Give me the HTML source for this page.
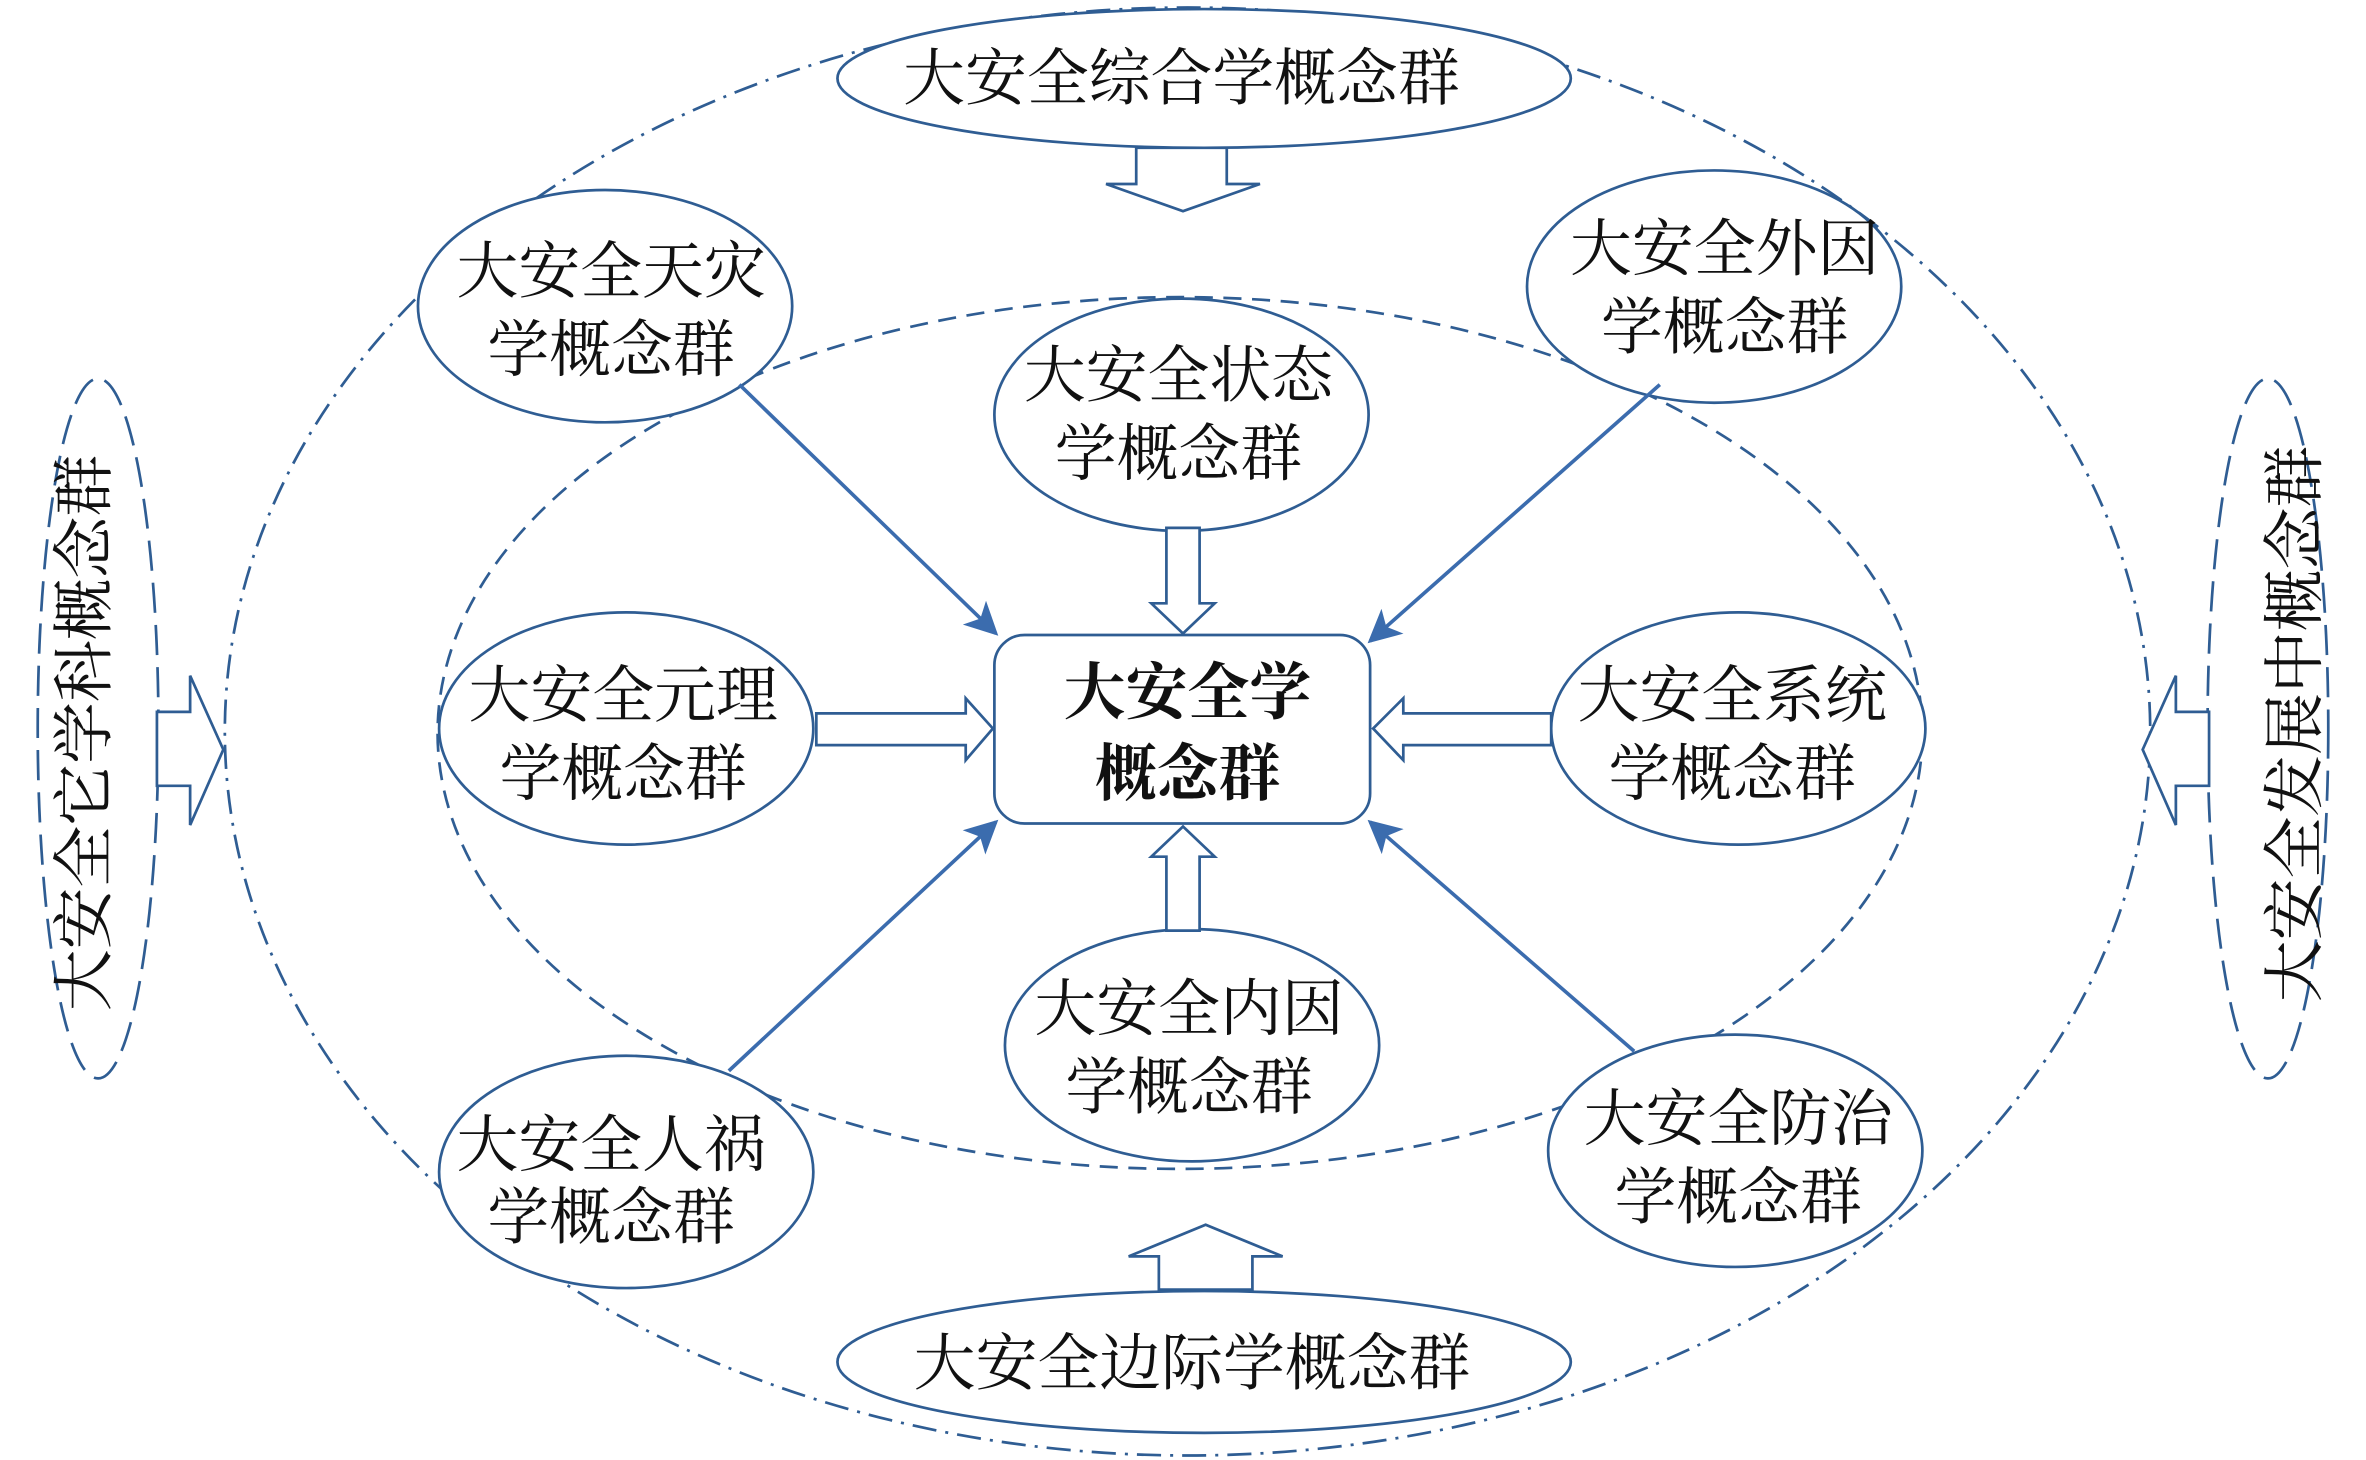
<!DOCTYPE html>
<html><head><meta charset="utf-8"><style>
html,body{margin:0;padding:0;background:#fff}
svg{display:block}
text{font-family:"Liberation Serif","Noto Serif CJK SC","Noto Sans CJK SC",serif;fill:#111;font-size:41px}
</style></head><body>
<svg width="2366" height="1460" viewBox="0 0 1568 968" preserveAspectRatio="none" xmlns="http://www.w3.org/2000/svg">
<defs>
<marker id="ah2" viewBox="0 0 10 10" refX="9" refY="5" markerWidth="22" markerHeight="22" orient="auto" markerUnits="userSpaceOnUse">
<path d="M0,0 L10,5 L0,10 L2.5,5 z" fill="#3b6cae"/></marker>
</defs>
<g fill="none" stroke="#2f5d93" stroke-width="1.8">
<ellipse cx="787" cy="485" rx="638" ry="480" stroke-dasharray="16,6,2,6"/>
<ellipse cx="782" cy="486" rx="492" ry="289" stroke-dasharray="12,7"/>
<ellipse cx="65" cy="483" rx="40" ry="232" stroke-dasharray="20,8"/>
<ellipse cx="1503" cy="483" rx="40" ry="232" stroke-dasharray="20,8"/>
</g>
<g fill="#fff" stroke="#2f5d93" stroke-width="1.8">
<ellipse cx="798" cy="52" rx="243" ry="46"/>
<ellipse cx="798" cy="903" rx="243" ry="47"/>
<ellipse cx="401" cy="203" rx="124" ry="77"/>
<ellipse cx="1136" cy="190" rx="124" ry="77"/>
<ellipse cx="783" cy="275" rx="124" ry="77"/>
<ellipse cx="415" cy="483" rx="124" ry="77"/>
<ellipse cx="1152" cy="483" rx="124" ry="77"/>
<ellipse cx="790" cy="693" rx="124" ry="77"/>
<ellipse cx="415" cy="777" rx="124" ry="77"/>
<ellipse cx="1150" cy="763" rx="124" ry="77"/>
<rect x="659" y="421" width="249" height="125" rx="20"/>
<polygon points="753,98 813,98 813,122 835,122 784,140 733,122 753,122"/>
<polygon points="773,350 795,350 795,400 805,400 784,420 763,400 773,400"/>
<polygon points="541,473 640,473 640,463 658,483 640,504 640,494 541,494"/>
<polygon points="1028,473 930,473 930,463 910,483 930,504 930,494 1028,494"/>
<polygon points="773,617 795,617 795,568 805,568 784,548 763,568 773,568"/>
<polygon points="768,855 830,855 830,833 850,833 799,812 748,833 768,833"/>
<polygon points="104,472 126,472 126,448 148,497 126,547 126,521 104,521"/>
<polygon points="1464,472 1442,472 1442,448 1420,497 1442,547 1442,521 1464,521"/>
</g>
<g stroke="#3b6cae" stroke-width="2.4" fill="none" marker-end="url(#ah2)">
<line x1="490" y1="255" x2="660" y2="420"/>
<line x1="1100" y1="255" x2="908" y2="425"/>
<line x1="483" y1="710" x2="660" y2="545"/>
<line x1="1083" y1="697" x2="908" y2="545"/>
</g>
<g text-anchor="middle">
<text x="783" y="66">大安全综合学概念群</text>
<text x="790" y="918">大安全边际学概念群</text>
<text x="405" y="194">大安全天灾</text><text x="405" y="246">学概念群</text>
<text x="1143" y="179">大安全外因</text><text x="1143" y="231">学概念群</text>
<text x="781" y="263">大安全状态</text><text x="781" y="315">学概念群</text>
<text x="413" y="475">大安全元理</text><text x="413" y="527">学概念群</text>
<text x="1148" y="475">大安全系统</text><text x="1148" y="527">学概念群</text>
<text x="788" y="683">大安全内因</text><text x="788" y="735">学概念群</text>
<text x="405" y="773">大安全人祸</text><text x="405" y="821">学概念群</text>
<text x="1152" y="756">大安全防治</text><text x="1152" y="808">学概念群</text>
<text x="787" y="473" font-weight="bold">大安全学</text>
<text x="787" y="527" font-weight="bold">概念群</text>
<text transform="translate(70,486) rotate(-90)">大安全它学科概念群</text>
<text transform="translate(1535,480) rotate(-90)">大安全发展中概念群</text>
</g>
</svg>
</body></html>
